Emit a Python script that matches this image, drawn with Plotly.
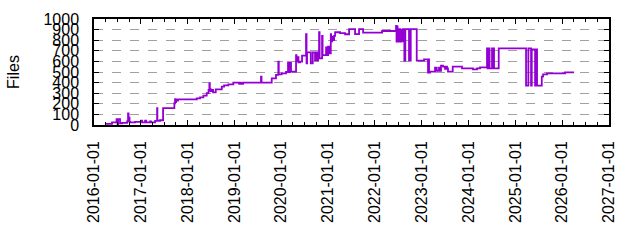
import pandas as pd
import plotly.graph_objects as go

# Decimal-year timestamps and file counts (step series)
years = [
    2016.235, 2016.384, 2016.481, 2016.502, 2016.513, 2016.555, 2016.598, 2016.705,
    2016.726, 2016.737, 2016.748, 2016.758, 2016.769, 2016.876, 2017.004, 2017.025,
    2017.089, 2017.111, 2017.196, 2017.217, 2017.303, 2017.346, 2017.352, 2017.410,
    2017.474, 2017.715, 2017.730, 2017.741, 2017.751, 2017.773, 2017.794, 2018.194,
    2018.264, 2018.335, 2018.407, 2018.446, 2018.463, 2018.473, 2018.488, 2018.520,
    2018.542, 2018.599, 2018.728, 2018.777, 2018.869, 2018.975, 2019.097, 2019.108,
    2019.118, 2019.140, 2019.161, 2019.183, 2019.567, 2019.578, 2019.796, 2019.887,
    2019.937, 2019.947, 2020.009, 2020.101, 2020.144, 2020.154, 2020.165, 2020.176,
    2020.186, 2020.208, 2020.315, 2020.325, 2020.347, 2020.368, 2020.400, 2020.443,
    2020.528, 2020.539, 2020.550, 2020.629, 2020.671, 2020.720, 2020.742, 2020.763,
    2020.785, 2020.806, 2020.817, 2020.870, 2020.881, 2020.955, 2020.977, 2020.998,
    2021.019, 2021.056, 2021.062, 2021.084, 2021.105, 2021.126, 2021.148, 2021.254,
    2021.361, 2021.447, 2021.575, 2021.660, 2021.746, 2022.152, 2022.451, 2022.461,
    2022.472, 2022.483, 2022.493, 2022.504, 2022.515, 2022.536, 2022.557, 2022.579,
    2022.600, 2022.628, 2022.649, 2022.728, 2022.765, 2022.893, 2023.049, 2023.134,
    2023.145, 2023.156, 2023.177, 2023.284, 2023.320, 2023.369, 2023.390, 2023.412,
    2023.454, 2023.497, 2023.519, 2023.540, 2023.561, 2023.662, 2023.860, 2024.095,
    2024.181, 2024.245, 2024.394, 2024.405, 2024.416, 2024.426, 2024.437, 2024.448,
    2024.501, 2024.516, 2024.529, 2024.544, 2024.644, 2025.227, 2025.276, 2025.334,
    2025.349, 2025.420, 2025.430, 2025.441, 2025.452, 2025.462, 2025.563, 2025.590,
    2025.676, 2026.060, 2026.253,
]
files = [
    10, 25, 55, 0, 55, 15, 20, 35,
    110, 40, 70, 30, 25, 30, 40, 25,
    40, 25, 35, 25, 38, 160, 40, 45,
    160, 205, 245, 215, 240, 230, 242, 252,
    261, 277, 300, 330, 393, 340, 320, 330,
    308, 337, 362, 374, 384, 399, 390, 400,
    388, 398, 388, 400, 456, 400, 440, 472,
    597, 478, 487, 500, 591, 500, 591, 500,
    591, 503, 660, 600, 640, 590, 597, 654,
    858, 582, 686, 582, 686, 610, 686, 610,
    686, 875, 628, 840, 660, 733, 660, 740,
    676, 856, 790, 834, 800, 840, 875, 866,
    856, 904, 858, 904, 872, 887, 934, 786,
    930, 790, 900, 786, 904, 786, 900, 790,
    904, 607, 904, 607, 904, 607, 620, 494,
    620, 494, 503, 541, 512, 541, 512, 560,
    550, 530, 550, 535, 503, 550, 535, 525,
    535, 544, 723, 535, 723, 535, 723, 535,
    723, 535, 723, 535, 723, 371, 723, 371,
    714, 371, 714, 371, 714, 371, 456, 478,
    487, 497, 497,
]

y_ticks = list(range(0, 1001, 100))


def to_datetime(y):
    yr = int(y)
    start = pd.Timestamp(year=yr, month=1, day=1)
    end = pd.Timestamp(year=yr + 1, month=1, day=1)
    return start + (end - start) * (y - yr)


dates = [to_datetime(y) for y in years]

fig = go.Figure()
fig.add_trace(go.Scatter(
    x=dates, y=files, mode="lines", line_shape="hv",
    line=dict(color="#9400d3", width=1.8), showlegend=False,
))

font = "Liberation Sans, Arial, sans-serif"
fig.update_layout(
    width=640, height=240,
    margin=dict(l=94, r=31, t=19, b=115),
    paper_bgcolor="white", plot_bgcolor="white",
    font=dict(family=font, color="black"),
    xaxis=dict(
        type="date", range=["2016-01-01", "2027-01-01"],
        tick0="2016-01-01", dtick="M12", tickformat="%Y-%m-%d",
        tickangle=-90, tickfont=dict(size=16),
        ticks="inside", ticklen=5, tickcolor="black",
        showline=True, linecolor="black", linewidth=1.5, mirror="allticks",
        showgrid=False, zeroline=False, ticklabelstandoff=8,
        minor=dict(dtick="M3", ticks="inside", ticklen=3, tickcolor="black", showgrid=False),
    ),
    yaxis=dict(
        range=[0, 1000], tickvals=y_ticks, tickfont=dict(size=16),
        ticks="inside", ticklen=5, tickcolor="black",
        showline=True, linecolor="black", linewidth=1.5, mirror="allticks",
        showgrid=True, gridcolor="#a0a0a0", griddash="dash", gridwidth=1,
        zeroline=False, ticklabelstandoff=10,
        title=dict(text="Files", font=dict(size=16), standoff=20),
    ),
)

fig.write_html("out.html")
